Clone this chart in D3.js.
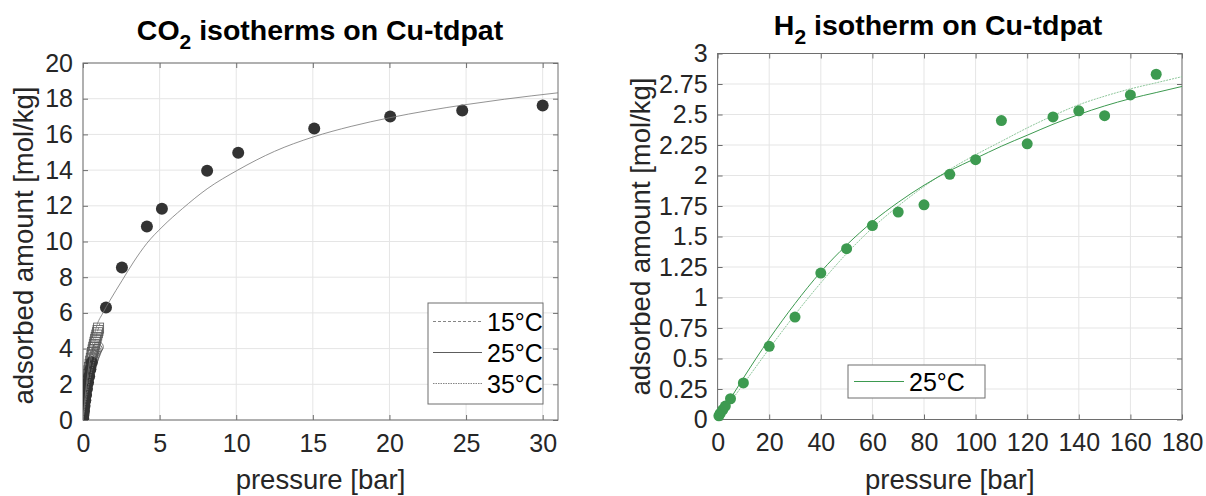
<!DOCTYPE html>
<html><head><meta charset="utf-8">
<script src="https://cdn.jsdelivr.net/npm/d3@7/dist/d3.min.js"></script>
<style>
html,body{margin:0;padding:0;background:#fff;}
svg{display:block;font-family:"Liberation Sans",Arial,Helvetica,sans-serif;}
</style></head>
<body><svg id="c" width="1206" height="496"></svg>
<script>
// ---------- CO2 data (left) ----------
const co2XTicks = [0,5,10,15,20,25,30];
const co2YTicks = [0,2,4,6,8,10,12,14,16,18,20];
const co2Legend = ["15°C","25°C","35°C"];
// 15°C measured points (open squares)
const co2_15_p = [0.01,0.02,0.04,0.06,0.08,0.10,0.13,0.16,0.19,0.22,0.26,0.30,0.34,0.38,0.42,0.46,0.50,0.54,0.58,0.62,0.66,0.70,0.74,0.78,0.82,0.86,0.90,0.94,0.98,1.02];
const co2_15_q = [0.12,0.25,0.45,0.65,0.85,1.02,1.25,1.47,1.68,1.88,2.12,2.35,2.56,2.76,2.95,3.12,3.30,3.46,3.62,3.78,3.93,4.08,4.22,4.36,4.50,4.63,4.76,4.89,5.02,5.15];
// 35°C measured points (open circles)
const co2_35_p = [0.01,0.02,0.04,0.06,0.09,0.12,0.16,0.20,0.24,0.29,0.34,0.39,0.44,0.50,0.56,0.62,0.68,0.74,0.80,0.86,0.93,1.00];
const co2_35_q = [0.08,0.18,0.35,0.52,0.75,0.98,1.25,1.50,1.72,1.98,2.22,2.44,2.64,2.86,3.06,3.25,3.42,3.58,3.72,3.85,3.98,4.10];
// 25°C measured points (filled circles)
const co2_25_p = [0.01,0.03,0.06,0.10,0.15,0.20,0.26,0.33,0.40,0.48,0.57,1.5,2.54,4.17,5.15,8.1,10.13,15.09,20.05,24.75,30.0];
const co2_25_q = [0.10,0.30,0.50,0.80,1.10,1.40,1.75,2.10,2.45,2.85,3.24,6.3,8.55,10.84,11.84,13.97,14.97,16.33,17.0,17.34,17.62];
// fitted isotherms
const fit15_p = [0,0.25,0.5,0.75,1.1];
const fit15_q = [0,1.8,3.2,4.3,5.4];
const fit25_p = [0,0.2,0.45,0.87,1.3,1.76,2.54,3.3,4.17,5.15,6.5,8.1,10.1,12.5,15,17.5,20,22.5,25,27.5,31];
const fit25_q = [0,1.8,3.4,5.2,6.0,6.7,7.8,8.85,9.9,10.8,11.85,12.95,14.0,15.05,15.85,16.45,16.93,17.33,17.67,17.97,18.33];
const fit35_p = [0,0.25,0.5,0.75,1.1];
const fit35_q = [0,1.4,2.5,3.4,4.4];

// ---------- H2 data (right) ----------
const h2XTicks = [0,20,40,60,80,100,120,140,160,180];
const h2YTicks = [0,0.25,0.5,0.75,1,1.25,1.5,1.75,2,2.25,2.5,2.75,3];
const h2YTickLabels = ["0","0.25","0.5","0.75","1","1.25","1.5","1.75","2","2.25","2.5","2.75","3"];
const h2Legend = ["25°C"];
const h2_p = [0.5,1,2,3,5,10,20,30,40,50,60,70,80,90,100,110,120,130,140,150,160,170];
const h2_q = [0.03,0.05,0.08,0.11,0.17,0.30,0.60,0.84,1.20,1.40,1.59,1.70,1.76,2.01,2.13,2.45,2.26,2.48,2.53,2.49,2.66,2.83];
const h2fit_p  = [0,10,20,30,40,50,60,70,80,90,100,110,120,130,140,150,160,170,180];
const h2fitA_q = [0,0.34,0.66,0.95,1.21,1.43,1.62,1.78,1.92,2.04,2.14,2.24,2.33,2.42,2.50,2.57,2.63,2.68,2.73];
const h2fitB_q = [0,0.29,0.58,0.86,1.12,1.36,1.57,1.75,1.91,2.05,2.17,2.28,2.39,2.49,2.58,2.65,2.71,2.76,2.81];

const svg = d3.select("#c");
const TXT = "#262626", BOX = "#6e6e6e", GRID = "#e5e5e5";
const tickFont = 25, labFont = 27.5, titleFont = 28.5;

function axesFrame(g, x, y, xt, yt, ytl){
  const [x0,x1] = x.range(), [y0,y1] = y.range();
  g.append("g").selectAll("line").data(xt).join("line")
    .attr("x1",d=>x(d)).attr("x2",d=>x(d)).attr("y1",y0).attr("y2",y1)
    .attr("stroke",GRID).attr("stroke-width",1);
  g.append("g").selectAll("line").data(yt).join("line")
    .attr("y1",d=>y(d)).attr("y2",d=>y(d)).attr("x1",x0).attr("x2",x1)
    .attr("stroke",GRID).attr("stroke-width",1);
  const xa = d3.axisBottom(x).tickValues(xt).tickSizeInner(-5).tickSizeOuter(0).tickPadding(14);
  const xaTop = d3.axisTop(x).tickValues(xt).tickSizeInner(-5).tickSizeOuter(0).tickFormat("");
  const ya = d3.axisLeft(y).tickValues(yt).tickSizeInner(-5).tickSizeOuter(0).tickPadding(10)
      .tickFormat((d,i)=> ytl ? ytl[i] : d3.format("d")(d));
  const yaR = d3.axisRight(y).tickValues(yt).tickSizeInner(-5).tickSizeOuter(0).tickFormat("");
  g.append("g").attr("transform",`translate(0,${y0})`).call(xa);
  g.append("g").attr("transform",`translate(0,${y1})`).call(xaTop);
  g.append("g").attr("transform",`translate(${x0},0)`).call(ya);
  g.append("g").attr("transform",`translate(${x1},0)`).call(yaR);
  g.selectAll(".domain").remove();
  g.selectAll(".tick line").attr("stroke",BOX);
  g.selectAll(".tick text").attr("fill",TXT).style("font-size",tickFont+"px")
    .attr("font-family","'Liberation Sans',Arial,sans-serif");
  g.append("rect").attr("x",x0).attr("y",y1).attr("width",x1-x0).attr("height",y0-y1)
    .attr("fill","none").attr("stroke",BOX).attr("stroke-width",1);
}

function labels(g, x, cxTitle, title, sub, rest, titleY){
  const [x0,x1] = x.range();
  const cx = (x0+x1)/2;
  const t = g.append("text").attr("x",cxTitle).attr("y",titleY).attr("text-anchor","middle")
    .attr("fill","#000").style("font-size",titleFont+"px").style("font-weight","bold");
  t.append("tspan").text(title);
  t.append("tspan").text(sub).attr("dy",9).style("font-size","21px");
  t.append("tspan").text(rest).attr("dy",-9);
  g.append("text").attr("x",cx).attr("y",489).attr("text-anchor","middle").attr("fill",TXT)
    .style("font-size",labFont+"px").text("pressure [bar]");
}

// ---------- LEFT ----------
const L = svg.append("g");
const xL = d3.scaleLinear().domain([0,31]).range([83,558]);
const yL = d3.scaleLinear().domain([0,20]).range([420,63]);
axesFrame(L, xL, yL, co2XTicks, co2YTicks, null);
labels(L, xL, 320, "CO", "2", " isotherms on Cu-tdpat", 40);
L.append("text").attr("transform",`translate(33,${(420+63)/2 + 4}) rotate(-90)`).attr("text-anchor","middle")
  .attr("fill",TXT).style("font-size",labFont+"px").text("adsorbed amount [mol/kg]");

const lineL = d3.line().x(d=>xL(d[0])).y(d=>yL(d[1])).curve(d3.curveMonotoneX);
L.append("clipPath").attr("id","clipL").append("rect")
  .attr("x",83).attr("y",63).attr("width",475).attr("height",357);
const plotL = L.append("g").attr("clip-path","url(#clipL)");
plotL.append("g").selectAll("rect").data(d3.zip(co2_15_p,co2_15_q)).join("rect")
  .attr("x",d=>xL(d[0])-5).attr("y",d=>yL(d[1])-5).attr("width",10).attr("height",10)
  .attr("fill","none").attr("stroke","#555").attr("stroke-width",0.8);
plotL.append("g").selectAll("circle").data(d3.zip(co2_35_p,co2_35_q)).join("circle")
  .attr("cx",d=>xL(d[0])).attr("cy",d=>yL(d[1])).attr("r",5)
  .attr("fill","none").attr("stroke","#555").attr("stroke-width",0.8);
plotL.append("g").selectAll("circle").data(d3.zip(co2_25_p,co2_25_q)).join("circle")
  .attr("cx",d=>xL(d[0])).attr("cy",d=>yL(d[1])).attr("r",6)
  .attr("fill","#333");
const fitStyles = [["#666","4,2"],["#777",null],["#777","1.5,1"]];
[[fit15_p,fit15_q],[fit25_p,fit25_q],[fit35_p,fit35_q]].forEach((f,i)=>{
  plotL.append("path").datum(d3.zip(f[0],f[1])).attr("d",lineL).attr("fill","none")
    .attr("stroke",fitStyles[i][0]).attr("stroke-width",0.8)
    .attr("stroke-dasharray",fitStyles[i][1]);
});
const lgL = L.append("g");
lgL.append("rect").attr("x",428).attr("y",303).attr("width",115).attr("height",101)
  .attr("fill","#fff").attr("stroke",BOX).attr("stroke-width",1);
co2Legend.forEach((s,i)=>{
  const yy = 321.5 + i*31;
  lgL.append("line").attr("x1",433).attr("x2",482).attr("y1",yy).attr("y2",yy)
    .attr("stroke",i==1?"#333":"#666").attr("stroke-width",0.8)
    .attr("stroke-dasharray",[ "3,2", null, "1.5,1"][i]);
  lgL.append("text").attr("x",487).attr("y",yy+9).attr("fill","#000")
    .style("font-size",tickFont+"px").text(s);
});

// ---------- RIGHT ----------
const R = svg.append("g");
const xR = d3.scaleLinear().domain([0,180]).range([717.6,1182]);
const yR = d3.scaleLinear().domain([0,3]).range([419.5,53.5]);
axesFrame(R, xR, yR, h2XTicks, h2YTicks, h2YTickLabels);
labels(R, xR, 938, "H", "2", " isotherm on Cu-tdpat", 35);
R.append("text").attr("transform",`translate(650,${(419.5+53.5)/2}) rotate(-90)`).attr("text-anchor","middle")
  .attr("fill",TXT).style("font-size",labFont+"px").text("adsorbed amount [mol/kg]");
const GREEN = "#3d9a50";
const lineR = d3.line().x(d=>xR(d[0])).y(d=>yR(d[1])).curve(d3.curveMonotoneX);
R.append("path").datum(d3.zip(h2fit_p,h2fitB_q)).attr("d",lineR).attr("fill","none")
  .attr("stroke","#8fc79c").attr("stroke-width",1).attr("stroke-dasharray","2,1");
R.append("path").datum(d3.zip(h2fit_p,h2fitA_q)).attr("d",lineR).attr("fill","none")
  .attr("stroke",GREEN).attr("stroke-width",1);
R.append("g").selectAll("circle").data(d3.zip(h2_p,h2_q)).join("circle")
  .attr("cx",d=>xR(d[0])).attr("cy",d=>yR(d[1])).attr("r",5.5).attr("fill",GREEN);
const lgR = R.append("g");
lgR.append("rect").attr("x",848).attr("y",365).attr("width",137).attr("height",33)
  .attr("fill","#fff").attr("stroke",BOX).attr("stroke-width",1);
lgR.append("line").attr("x1",854).attr("x2",904).attr("y1",381.5).attr("y2",381.5)
  .attr("stroke",GREEN).attr("stroke-width",1);
lgR.append("text").attr("x",909).attr("y",390.5).attr("fill","#000")
  .style("font-size",tickFont+"px").text(h2Legend[0]);
</script></body></html>
